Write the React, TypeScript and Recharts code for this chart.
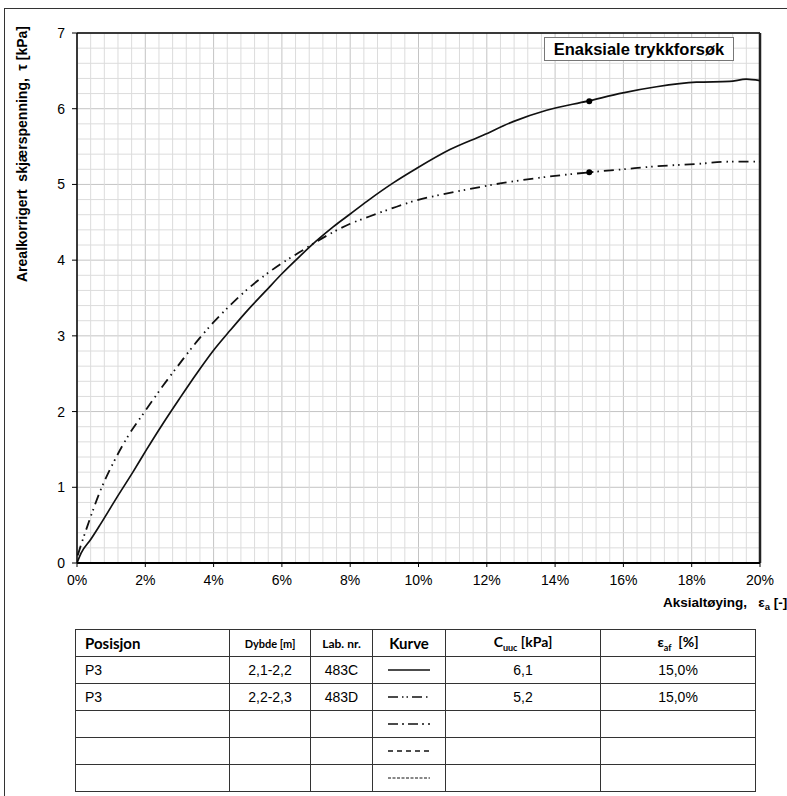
import { ComposedChart, Line, Scatter, XAxis, YAxis, CartesianGrid, ReferenceLine, Label } from 'recharts';

// 483C (solid curve)
const strain483C = [0, 0.12, 0.4, 0.67, 1.16, 1.65, 2.04, 2.5, 3.0, 3.5, 4.0, 4.5, 5.0, 5.5, 6.0, 6.5, 7.0, 7.5, 8.0, 8.5, 9.26, 9.94, 10.92, 11.89, 12.77, 13.75, 14.95, 15.99, 16.97, 18.14, 19.11, 19.6, 20.0];
const stress483C = [0, 0.13, 0.31, 0.5, 0.86, 1.21, 1.5, 1.83, 2.17, 2.5, 2.81, 3.08, 3.34, 3.58, 3.82, 4.04, 4.25, 4.44, 4.61, 4.78, 5.02, 5.21, 5.46, 5.65, 5.83, 5.98, 6.1, 6.21, 6.29, 6.35, 6.36, 6.39, 6.37];

// 483D (dash-dot-dot curve)
const strain483D = [0.02, 0.09, 0.33, 0.67, 1.06, 1.5, 2.0, 2.5, 3.0, 3.5, 4.0, 4.5, 5.0, 5.5, 6.0, 6.5, 7.0, 7.5, 8.0, 8.58, 9.26, 9.94, 10.72, 11.5, 12.48, 13.75, 15.0, 15.99, 16.97, 18.14, 19.11, 20.0];
const stress483D = [0.1, 0.2, 0.52, 0.94, 1.32, 1.68, 2.01, 2.33, 2.63, 2.92, 3.18, 3.41, 3.62, 3.8, 3.96, 4.1, 4.24, 4.37, 4.48, 4.58, 4.69, 4.79, 4.87, 4.94, 5.02, 5.1, 5.16, 5.2, 5.24, 5.27, 5.3, 5.3];

// failure points
const failStrain = [15.0, 15.0];
const failStress = [6.1, 5.16];

const xTicks = [0, 2, 4, 6, 8, 10, 12, 14, 16, 18, 20];
const yTicks = [0, 1, 2, 3, 4, 5, 6, 7];

// table
const positions = ['P3', 'P3', '', '', ''];
const depths = ['2,1-2,2', '2,2-2,3', '', '', ''];
const labNos = ['483C', '483D', '', '', ''];
const curveDashes = ['', '10 4 1.5 3 1.5 4', '10 4 2 4', '5 4', '3 1.5'];
const cuucValues = ['6,1', '5,2', '', '', ''];
const failStrainText = ['15,0%', '15,0%', '', '', ''];

const dataC = strain483C.map((x, i) => ({ x, y: stress483C[i] }));
const dataD = strain483D.map((x, i) => ({ x, y: stress483D[i] }));
const failData = failStrain.map((x, i) => ({ x, y: failStress[i] }));

// minor grid: every 0.4 % and 0.2 kPa
const minorX = Array.from({ length: 51 }, (_, i) => +(i * 0.4).toFixed(1)).filter((v) => v % 2 !== 0);
const minorY = Array.from({ length: 36 }, (_, i) => +(i * 0.2).toFixed(1)).filter((v) => v % 1 !== 0);

const FONT = '"Liberation Sans", Arial, sans-serif';
const HEAD_FONT = 'Lato, "Liberation Sans", sans-serif';

const cell: React.CSSProperties = {
  border: '1px solid #333',
  height: 26,
  padding: 0,
  fontSize: 14,
  textAlign: 'center',
};

export default function App() {
  return (
    <div style={{ position: 'absolute', left: 0, top: 0, width: 787, height: 796, background: '#fff', fontFamily: FONT, overflow: 'hidden' }}>
      <div style={{ position: 'absolute', left: 4, top: 8, width: 800, height: 1, borderTop: '1.5px solid #333' }} />
      <div style={{ position: 'absolute', left: 4, top: 8, width: 1, height: 800, borderLeft: '1.5px solid #333' }} />

      <ComposedChart width={787} height={620} margin={{ top: 33, right: 27, bottom: 27, left: 37 }}>
        <CartesianGrid stroke="#c4c4c4" strokeWidth={1} />
        {minorX.map((v) => (
          <ReferenceLine key={`mx${v}`} x={v} stroke="#dcdcdc" strokeWidth={1} />
        ))}
        {minorY.map((v) => (
          <ReferenceLine key={`my${v}`} y={v} stroke="#dcdcdc" strokeWidth={1} />
        ))}
        <XAxis
          type="number"
          dataKey="x"
          domain={[0, 20]}
          ticks={xTicks}
          tickFormatter={(v) => `${v}%`}
          allowDataOverflow
          height={30}
          tickSize={4}
          tickMargin={8}
          axisLine={{ stroke: '#000', strokeWidth: 2 }}
          tickLine={{ stroke: '#000' }}
          tick={{ fill: '#000', fontSize: 14, fontFamily: FONT }}
        >
          <Label
            content={() => (
              <text x={663} y={607} fontSize={13.5} fontWeight="bold" fontFamily={FONT} fill="#000" style={{ whiteSpace: 'pre' }}>
                {'Aksialtøying,   ε'}
                <tspan fontSize={9.5} dy={3}>a</tspan>
                <tspan dy={-3}>{' [-]'}</tspan>
              </text>
            )}
          />
        </XAxis>
        <YAxis
          type="number"
          dataKey="y"
          domain={[0, 7]}
          ticks={yTicks}
          allowDataOverflow
          width={40}
          tickSize={5}
          tickMargin={7}
          axisLine={{ stroke: '#000', strokeWidth: 1.5 }}
          tickLine={{ stroke: '#000' }}
          tick={{ fill: '#000', fontSize: 14, fontFamily: FONT }}
        >
          <Label
            content={() => (
              <text x={22} y={154} transform="rotate(-90 22 154)" textAnchor="middle" dominantBaseline="central" fontSize={14} fontWeight="bold" fontFamily={FONT} fill="#000" style={{ whiteSpace: 'pre' }}>
                {'Arealkorrigert  skjærspenning,  τ [kPa]'}
              </text>
            )}
          />
        </YAxis>
        <ReferenceLine y={7} stroke="#000" strokeWidth={1.5} />
        <ReferenceLine x={20} stroke="#222" strokeWidth={2.5} />
        <Line data={dataC} dataKey="y" type="monotone" stroke="#111" strokeWidth={1.7} dot={false} isAnimationActive={false} />
        <Line data={dataD} dataKey="y" type="monotone" stroke="#111" strokeWidth={1.8} strokeDasharray="10 5 1.5 4 1.5 5" dot={false} isAnimationActive={false} />
        <Scatter data={failData} dataKey="y" fill="#000" shape={(p: any) => <circle cx={p.cx} cy={p.cy} r={3} fill="#000" />} isAnimationActive={false} />
      </ComposedChart>

      <div style={{ position: 'absolute', left: 544, top: 37, width: 188, height: 22, border: '1px solid #777', background: '#fff', fontSize: 16.5, fontWeight: 'bold', lineHeight: '22px', textAlign: 'center' }}>
        Enaksiale trykkforsøk
      </div>

      <table style={{ position: 'absolute', left: 75, top: 629, width: 680, borderCollapse: 'collapse', tableLayout: 'fixed', fontFamily: FONT, border: '1.5px solid #444' }}>
        <colgroup>
          <col style={{ width: 154 }} />
          <col style={{ width: 81 }} />
          <col style={{ width: 62 }} />
          <col style={{ width: 73 }} />
          <col style={{ width: 155 }} />
          <col style={{ width: 155 }} />
        </colgroup>
        <thead>
          <tr>
            <th style={{ ...cell, textAlign: 'left', paddingLeft: 9, fontFamily: HEAD_FONT, fontSize: 15 }}>Posisjon</th>
            <th style={{ ...cell, fontFamily: HEAD_FONT, fontSize: 11 }}>Dybde [m]</th>
            <th style={{ ...cell, fontFamily: HEAD_FONT, fontSize: 12 }}>Lab. nr.</th>
            <th style={{ ...cell, fontFamily: HEAD_FONT, fontSize: 15 }}>Kurve</th>
            <th style={{ ...cell, fontFamily: HEAD_FONT, fontSize: 14 }}>
              C<sub style={{ fontSize: 9 }}>uuc</sub> [kPa]
            </th>
            <th style={{ ...cell, fontFamily: HEAD_FONT, fontSize: 14, whiteSpace: 'pre' }}>
              ε<sub style={{ fontSize: 9 }}>af</sub>{'  '}[%]
            </th>
          </tr>
        </thead>
        <tbody>
          {positions.map((pos, i) => (
            <tr key={i}>
              <td style={{ ...cell, textAlign: 'left', paddingLeft: 9 }}>{pos}</td>
              <td style={cell}>{depths[i]}</td>
              <td style={cell}>{labNos[i]}</td>
              <td style={cell}>
                <svg width={44} height={10} style={{ display: 'block', margin: '0 auto' }}>
                  <line x1={1} y1={5} x2={43} y2={5} stroke="#111" strokeWidth={i === 4 ? 1 : 1.5} strokeDasharray={curveDashes[i] || undefined} />
                </svg>
              </td>
              <td style={cell}>{cuucValues[i]}</td>
              <td style={cell}>{failStrainText[i]}</td>
            </tr>
          ))}
        </tbody>
      </table>
    </div>
  );
}
